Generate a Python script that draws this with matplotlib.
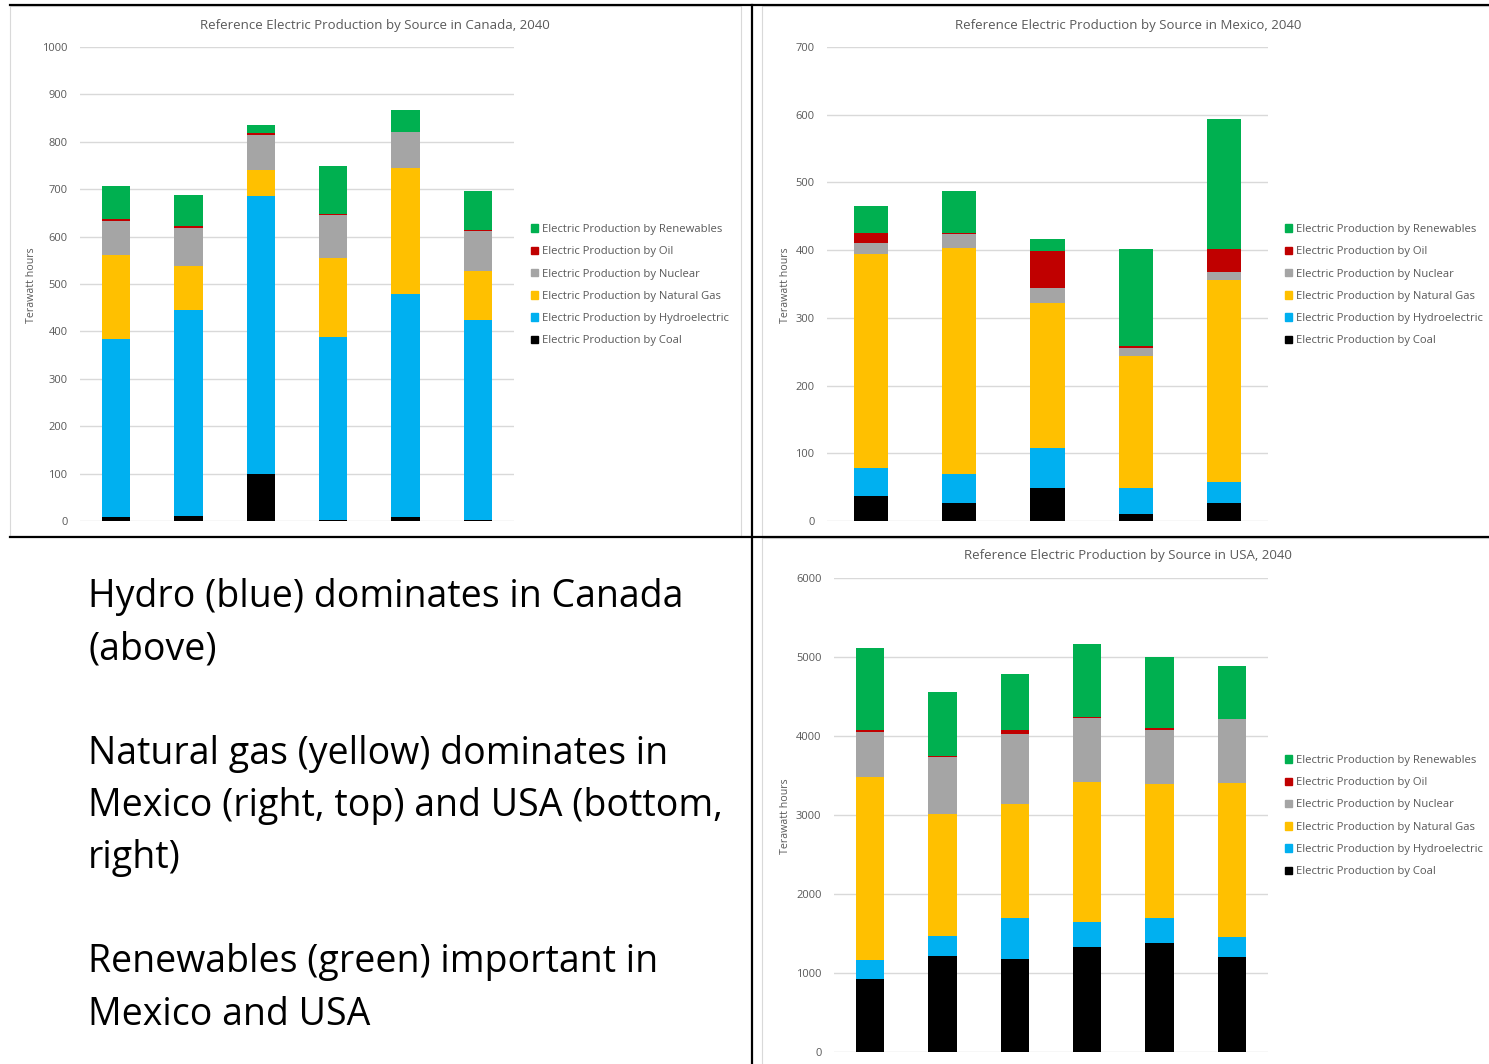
import matplotlib.pyplot as plt
import numpy as np
from matplotlib.patches import Rectangle
from matplotlib.lines import Line2D

W, H = 1489, 1064

sources = ['Coal', 'Hydroelectric', 'Natural Gas', 'Nuclear', 'Oil', 'Renewables']
colors = ['#000000', '#00B0F0', '#FFC000', '#A5A5A5', '#C00000', '#00B050']

# Terawatt hours per scenario bar, stacked bottom -> top
canada_coal = [8, 10, 100, 3, 9, 3]
canada_hydro = [377, 436, 586, 386, 469, 421]
canada_gas = [177, 93, 54, 165, 267, 104]
canada_nuclear = [70, 80, 75, 92, 75, 83]
canada_oil = [5, 3, 3, 1, 1, 2]
canada_renew = [70, 66, 18, 101, 46, 84]

mexico_coal = [37, 27, 49, 10, 26]
mexico_hydro = [42, 43, 59, 39, 31]
mexico_gas = [316, 333, 214, 194, 299]
mexico_nuclear = [15, 21, 22, 12, 11]
mexico_oil = [16, 1, 55, 4, 35]
mexico_renew = [39, 63, 17, 143, 192]

usa_coal = [920, 1210, 1180, 1330, 1380, 1200]
usa_hydro = [250, 260, 510, 310, 320, 260]
usa_gas = [2310, 1540, 1450, 1780, 1690, 1940]
usa_nuclear = [570, 720, 890, 810, 690, 810]
usa_oil = [20, 20, 50, 10, 20, 5]
usa_renew = [1050, 810, 710, 930, 900, 665]

summary = ("Hydro (blue) dominates in Canada\n(above)\n\n"
           "Natural gas (yellow) dominates in\nMexico (right, top) and USA (bottom,\nright)\n\n"
           "Renewables (green) important in\nMexico and USA")

TXT = '#595959'
FONT = 'Open Sans'


def rect(x0, y0, x1, y1):
    return [x0 / W, 1 - y1 / H, (x1 - x0) / W, (y1 - y0) / H]


def stacked(fig, box, series, ymax, step, title, title_xy, ylab_xy, leg_xy):
    ax = fig.add_axes(rect(*box))
    n = len(series[0])
    x = np.arange(n)
    bottom = np.zeros(n)
    for vals, c in zip(series, colors):
        ax.bar(x, vals, width=0.39, bottom=bottom, color=c, linewidth=0)
        bottom += np.array(vals)
    ax.set_xlim(-0.5, n - 0.5)
    ax.set_ylim(0, ymax)
    ax.set_yticks(np.arange(0, ymax + 1, step))
    ax.set_xticks([])
    ax.tick_params(axis='y', length=0, pad=9, labelsize=8, labelcolor=TXT)
    for s in ax.spines.values():
        s.set_visible(False)
    ax.yaxis.grid(True, color='#D9D9D9', linewidth=1)
    ax.set_axisbelow(True)
    fig.text(title_xy[0] / W, 1 - title_xy[1] / H, title, ha='center', va='center',
             fontsize=9.5, color=TXT, family=FONT)
    fig.text(ylab_xy[0] / W, 1 - ylab_xy[1] / H, 'Terawatt hours', rotation=90,
             ha='center', va='center', fontsize=7.7, color=TXT, family=FONT)
    handles = [Rectangle((0, 0), 1, 1, color=c) for c in colors][::-1]
    labels = ['Electric Production by ' + s for s in sources][::-1]
    ax.legend(handles, labels, loc='upper left',
              bbox_to_anchor=(leg_xy[0] / W, 1 - leg_xy[1] / H),
              bbox_transform=fig.transFigure, frameon=False,
              labelcolor=TXT, handlelength=0.65, handleheight=0.65,
              handletextpad=0.3, labelspacing=1.0, borderpad=0, borderaxespad=0,
              prop={'family': FONT, 'size': 8.1})
    return ax


plt.rcParams['font.family'] = [FONT, 'DejaVu Sans']
fig = plt.figure(figsize=(W / 100, H / 100), dpi=100)

# chart frames (light gray)
for x0, y0, x1, y1 in [(10, 6, 741, 536), (762, 6, 1500, 536), (762, 538, 1500, 1070)]:
    fig.add_artist(Rectangle((x0 / W, 1 - y1 / H), (x1 - x0) / W, (y1 - y0) / H,
                             transform=fig.transFigure, fill=False,
                             edgecolor='#D9D9D9', linewidth=0.8))

stacked(fig, (80, 47, 514, 521),
        [canada_coal, canada_hydro, canada_gas, canada_nuclear, canada_oil, canada_renew],
        1000, 100, 'Reference Electric Production by Source in Canada, 2040',
        (375, 25), (31, 285), (531, 224))
stacked(fig, (827, 47, 1268, 521),
        [mexico_coal, mexico_hydro, mexico_gas, mexico_nuclear, mexico_oil, mexico_renew],
        700, 100, 'Reference Electric Production by Source in Mexico, 2040',
        (1128, 25), (785, 285), (1285, 224))
stacked(fig, (834, 578, 1268, 1052),
        [usa_coal, usa_hydro, usa_gas, usa_nuclear, usa_oil, usa_renew],
        6000, 1000, 'Reference Electric Production by Source in USA, 2040',
        (1128, 556), (785, 816), (1285, 755))

# table borders (black)
for xs, ys in [((10, W), (5, 5)), ((10, W), (537, 537)), ((752, 752), (5, H))]:
    fig.add_artist(Line2D([v / W for v in xs], [1 - v / H for v in ys],
                          transform=fig.transFigure, color='black', linewidth=1.6))

fig.text(88 / W, 1 - 578 / H, summary, ha='left', va='top', fontsize=27,
         color='black', family=FONT, linespacing=1.49)

fig.savefig('out.png', dpi=100, facecolor='white')
